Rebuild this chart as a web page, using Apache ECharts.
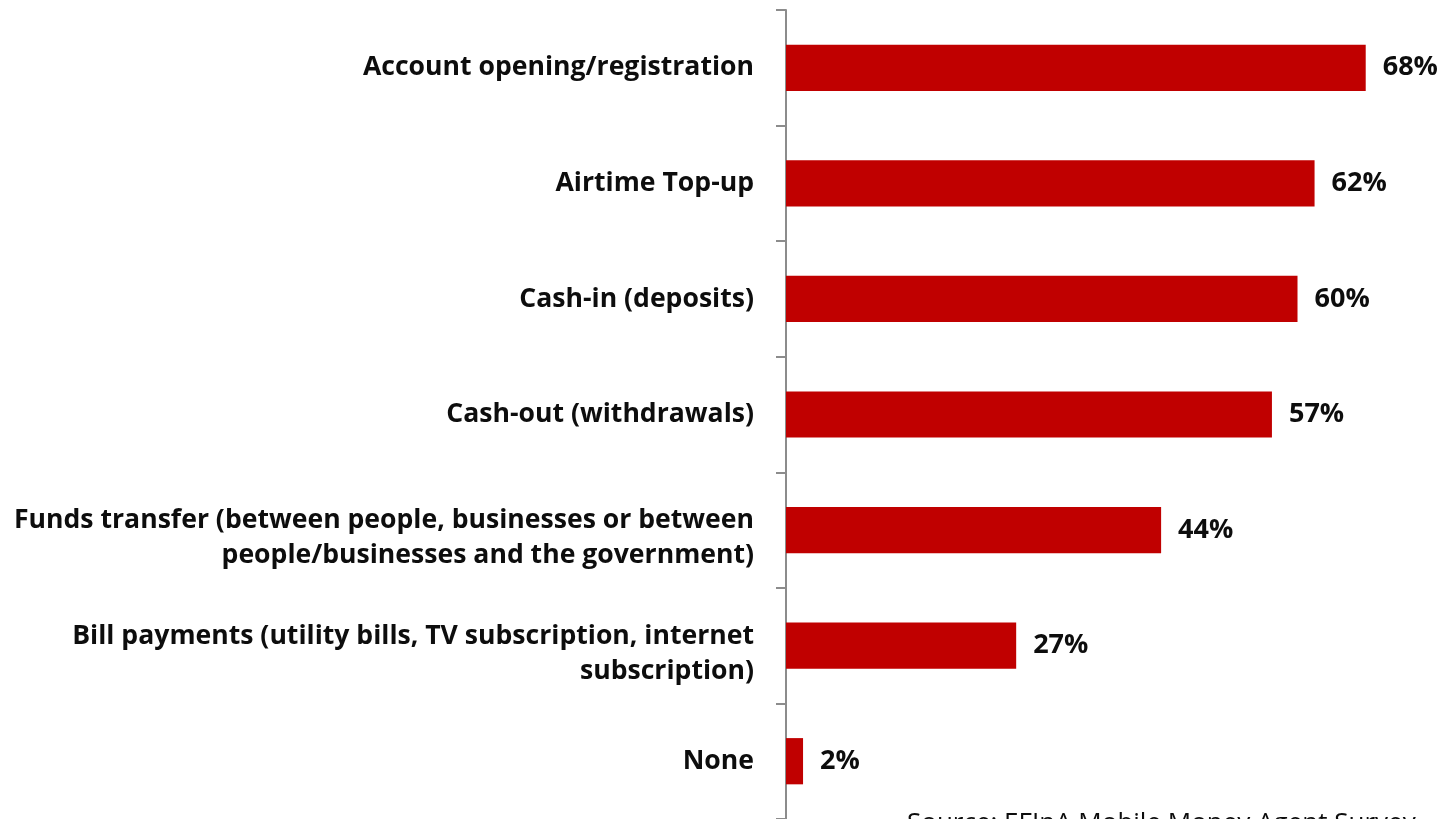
<!DOCTYPE html>
<html>
<head>
<meta charset="utf-8">
<script src="https://cdn.jsdelivr.net/npm/echarts@6/dist/echarts.min.js"></script>
<style>
  html, body { margin: 0; padding: 0; background: #ffffff; overflow: hidden; }
  #chart { width: 1445px; height: 819px; }
</style>
</head>
<body>
<div id="chart"></div>
<script>
// Services offered by agents (share of respondents, %)
const categories = [
  'Account opening/registration',
  'Airtime Top-up',
  'Cash-in (deposits)',
  'Cash-out (withdrawals)',
  'Funds transfer (between people, businesses or between\npeople/businesses and the government)',
  'Bill payments (utility bills, TV subscription, internet\nsubscription)',
  'None'
];
const values = [68, 62, 60, 57, 44, 27, 2];
const sourceNote = 'Source: EFInA Mobile Money Agent Survey';

const FONT = '"Open Sans", Lato, "Liberation Sans", sans-serif';

const chart = echarts.init(document.getElementById('chart'), null, { renderer: 'canvas' });
chart.setOption({
  animation: false,
  backgroundColor: '#ffffff',
  // plot area runs from the category axis to the right edge of the page;
  // the lowest band ends just below the visible area
  grid: { left: 786, top: 10, right: 0, bottom: -3, containLabel: false },
  xAxis: {
    type: 'value',
    min: 0,
    max: 77.3,
    show: false
  },
  yAxis: {
    type: 'category',
    data: categories,
    inverse: true,
    axisLine: { show: true, lineStyle: { color: '#8c8c8c', width: 2 } },
    axisTick: { show: true, length: 10, inside: false, lineStyle: { color: '#8c8c8c', width: 2 } },
    axisLabel: {
      margin: 32,
      color: '#0d0d0d',
      fontFamily: FONT,
      fontWeight: 'bold',
      fontSize: 26.6,
      lineHeight: 35,
      align: 'right',
      // two-line labels sit slightly below the band centre
      formatter: function (name) {
        return name.indexOf('\n') >= 0 ? '{gap|}\n' + name : name;
      },
      rich: {
        gap: { lineHeight: 16, fontSize: 1 }
      }
    },
    splitLine: { show: false }
  },
  series: [{
    type: 'bar',
    data: values,
    barWidth: '40%',
    itemStyle: { color: '#c00000' },
    label: {
      show: true,
      position: 'right',
      distance: 17,
      formatter: '{c}%',
      color: '#0d0d0d',
      fontFamily: FONT,
      fontWeight: 'bold',
      fontSize: 27
    }
  }],
  graphic: [{
    type: 'text',
    left: 907,
    top: 811,
    style: {
      text: sourceNote,
      fontFamily: FONT,
      fontSize: 26,
      fill: '#0d0d0d'
    }
  }]
});
</script>
</body>
</html>
